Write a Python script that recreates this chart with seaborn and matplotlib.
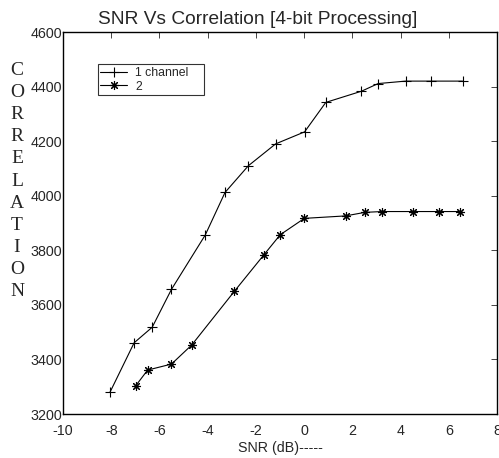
import numpy as np
import pandas as pd
import matplotlib
matplotlib.use("Agg")
import matplotlib.pyplot as plt
import seaborn as sns

# --- дані ---
snr_1ch = [-8.05, -7.05, -6.3, -5.5, -4.1, -3.28, -2.31, -1.18, 0.02, 0.9, 2.38, 3.07, 4.21, 5.28, 6.57]
corr_1ch = [3280, 3461, 3518, 3657, 3856, 4012, 4110, 4190, 4234, 4342, 4383, 4411, 4420, 4420, 4420]

snr_2ch = [-6.98, -6.49, -5.5, -4.66, -2.89, -1.68, -0.99, 0.01, 1.72, 2.52, 3.24, 4.5, 5.58, 6.48]
corr_2ch = [3304, 3361, 3383, 3453, 3650, 3782, 3857, 3917, 3926, 3939, 3942, 3942, 3942, 3942]

x_ticks = [-10, -8, -6, -4, -2, 0, 2, 4, 6, 8]
y_ticks = [3200, 3400, 3600, 3800, 4000, 4200, 4400, 4600]

df1 = pd.DataFrame({"snr": snr_1ch, "corr": corr_1ch})
df2 = pd.DataFrame({"snr": snr_2ch, "corr": corr_2ch})

sns.set_style("white")
plt.rcParams['font.family'] = ['Liberation Sans', 'DejaVu Sans']
plt.rcParams['xtick.direction'] = 'in'
plt.rcParams['ytick.direction'] = 'in'
plt.rcParams['axes.unicode_minus'] = False

fig = plt.figure(figsize=(4.99, 4.58), dpi=100)
ax = fig.add_axes([63 / 499, 44 / 458, 434 / 499, 382 / 458])

sns.lineplot(data=df1, x="snr", y="corr", ax=ax, color="black", linewidth=0.8,
             marker="+", markersize=7.5, markeredgewidth=0.8, markeredgecolor="black",
             label="1 channel    ", sort=False)
sns.lineplot(data=df2, x="snr", y="corr", ax=ax, color="black", linewidth=0.8,
             marker=(8, 2, 0), markersize=6.5, markeredgewidth=0.8, markeredgecolor="black",
             label="2", sort=False)

ax.set_xlim(-10, 8)
ax.set_ylim(3200, 4600)
ax.set_xticks(x_ticks)
ax.set_yticks(y_ticks)
ax.tick_params(axis="both", labelsize=10.3, length=4, width=0.6, top=True, right=True)
ax.tick_params(axis="x", pad=7.5)
ax.tick_params(axis="y", pad=0.5)
for s in ax.spines.values():
    s.set_color("black")
    s.set_linewidth(1.0)
ax.set_xlabel("")
ax.set_ylabel("")

leg = ax.legend(loc="upper left", bbox_to_anchor=(0.08, 0.915), fontsize=8.8,
                frameon=True, fancybox=False, edgecolor="black", handlelength=2.2,
                borderpad=0.2, labelspacing=0.15, handletextpad=0.65, borderaxespad=0)
leg.get_frame().set_linewidth(0.8)

fig.text(258 / 499, 1 - 19 / 458, "SNR Vs Correlation [4-bit Processing]",
         ha="center", va="center", fontsize=13.8)
fig.text(280 / 499, 1 - 448 / 458, "SNR (dB)-----", ha="center", va="center", fontsize=10.3)
fig.text(17 / 499, 1 - 181 / 458, "\n".join("CORRELATION"), ha="center", va="center",
         fontsize=14, family="Liberation Serif", linespacing=1.39)

fig.savefig("out.png", dpi=100)
